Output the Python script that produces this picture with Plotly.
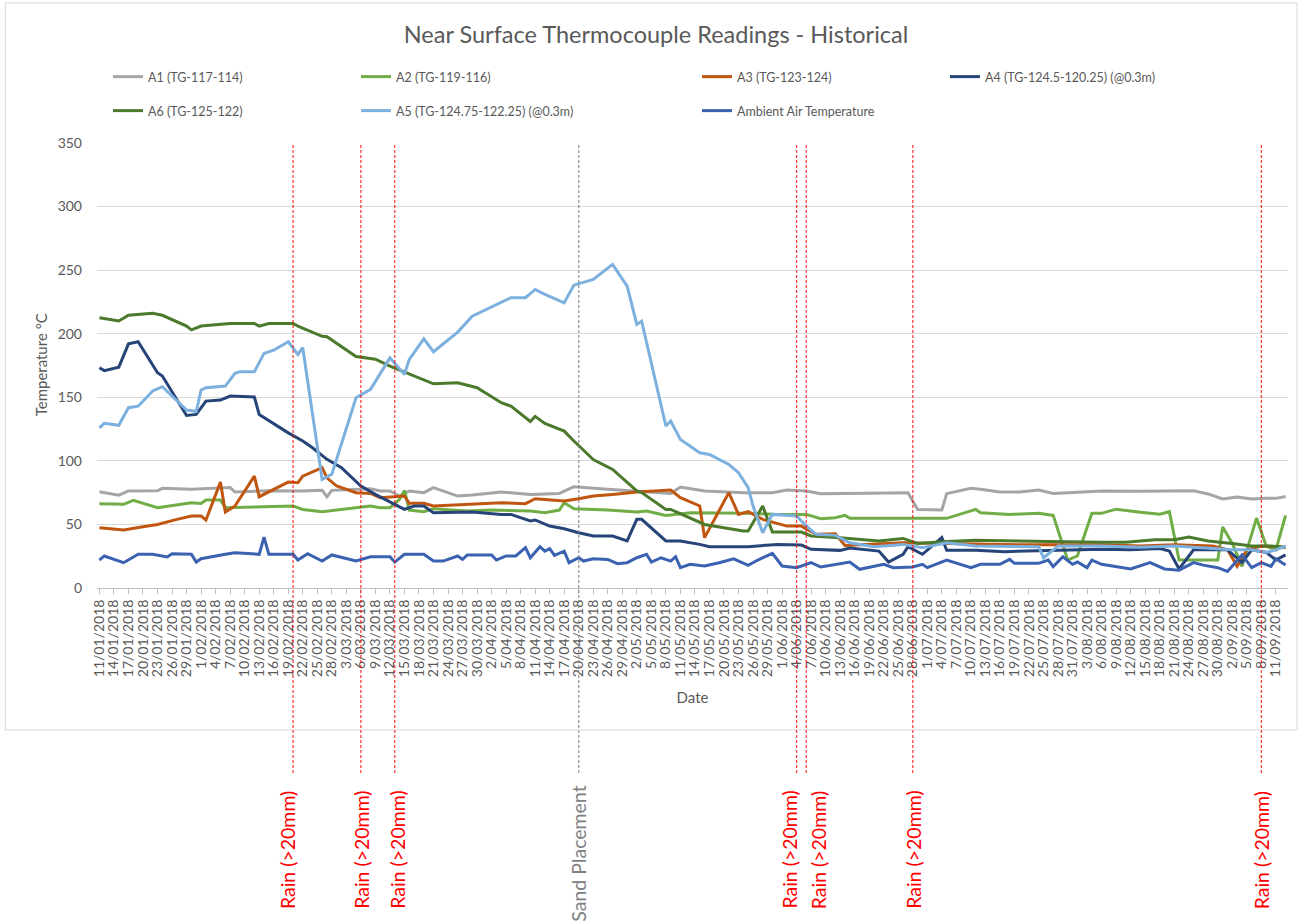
import plotly.graph_objects as go
import pandas as pd

START = "2018-01-11"
END_DAY = 245
TITLE = "Near Surface Thermocouple Readings - Historical"

# ---- data: day offsets from START and temperatures (deg C) ----
a1_day = [0, 2, 4, 6, 12, 13, 19, 27, 28, 35, 42, 46, 47, 48, 56, 58, 60, 62, 64, 67, 69, 74, 77, 83, 89,
          95, 98, 105, 118, 120, 125, 133, 139, 142, 146, 149, 155, 167, 169, 174, 175, 180, 182, 186, 190,
          194, 197, 207, 215, 222, 226, 229, 232, 235, 238, 241, 243, 245]
a1_val = [75.7, 74.5, 73.0, 76.3, 76.5, 78.4, 77.6, 79.0, 75.5, 76.5, 76.3, 76.8, 71.8, 76.8, 78.0, 76.3,
          76.3, 72.3, 76.3, 75.0, 78.9, 72.3, 73.1, 75.5, 73.6, 74.4, 79.7, 77.6, 74.4, 79.4, 76.3, 75.0,
          75.0, 77.0, 76.3, 74.2, 74.4, 75.0, 61.8, 61.3, 74.2, 78.4, 77.6, 75.5, 75.5, 77.0, 74.4, 76.3,
          76.0, 76.5, 76.5, 74.0, 70.0, 71.5, 70.0, 70.5, 70.5, 72.0]

a2_day = [0, 5, 7, 12, 19, 21, 22, 25, 26, 40, 42, 46, 56, 58, 60, 62, 63, 64, 67, 69, 76, 81, 89, 92, 95,
          96, 98, 105, 111, 113, 117, 120, 122, 134, 140, 146, 149, 152, 154, 155, 167, 169, 175, 181, 182,
          188, 194, 197, 200, 202, 205, 207, 210, 215, 219, 221, 223, 231, 232, 234, 236, 239, 241, 243, 245]
a2_val = [66.3, 65.8, 68.9, 63.2, 67.1, 66.5, 69.2, 69.2, 63.2, 64.5, 61.8, 60.0, 64.5, 63.2, 63.2, 69.7,
          76.8, 61.3, 60.0, 62.4, 60.5, 61.3, 60.5, 59.2, 61.3, 67.1, 62.4, 61.3, 59.7, 60.5, 57.1, 58.7,
          59.2, 58.7, 57.9, 57.9, 54.5, 55.3, 57.1, 54.8, 54.8, 54.8, 54.8, 61.8, 59.2, 57.9, 58.7, 57.1,
          22.0, 25.2, 58.7, 58.7, 62.0, 59.5, 58.0, 60.0, 22.0, 22.0, 48.0, 35.0, 17.0, 55.0, 33.0, 30.0, 57.0]

a3_day = [0, 5, 9, 12, 16, 19, 21, 22, 25, 26, 28, 32, 33, 39, 41, 42, 46, 47, 49, 53, 56, 58, 63, 64, 67,
          69, 83, 88, 90, 96, 99, 102, 106, 111, 118, 120, 124, 125, 130, 132, 134, 137, 142, 145, 148, 152,
          154, 161, 166, 175, 190, 207, 215, 222, 230, 233, 235, 237, 240, 245]
a3_val = [47.4, 45.6, 48.2, 50.0, 54.0, 56.6, 56.6, 53.5, 83.3, 59.7, 64.5, 88.0, 71.8, 83.3, 82.8, 88.0,
          94.6, 86.7, 80.2, 75.0, 74.4, 71.0, 72.3, 66.6, 66.6, 64.5, 67.1, 66.3, 70.2, 68.4, 70.2, 72.3,
          73.6, 75.5, 77.0, 71.0, 64.5, 39.6, 75.0, 57.9, 60.0, 54.0, 48.7, 48.7, 42.2, 42.7, 33.5, 34.9,
          35.6, 35.0, 34.0, 34.0, 33.0, 34.0, 33.0, 30.0, 17.0, 30.0, 33.0, 32.0]

a4_day = [0, 1, 4, 6, 8, 12, 13, 18, 20, 22, 25, 27, 32, 33, 39, 42, 44, 47, 50, 54, 57, 61, 63, 65, 67,
          69, 77, 83, 85, 89, 90, 93, 96, 99, 102, 106, 109, 111, 112, 117, 120, 124, 126, 134, 140, 145,
          147, 153, 155, 161, 163, 166, 167, 170, 174, 175, 181, 187, 207, 213, 219, 221, 223, 226, 233,
          236, 238, 241, 243, 245]
a4_val = [173.2, 171.0, 173.7, 192.0, 193.7, 169.3, 166.7, 135.7, 136.5, 147.0, 147.8, 151.0, 150.2, 136.5,
          122.0, 115.6, 110.3, 101.2, 94.6, 80.2, 73.6, 65.8, 61.8, 64.5, 64.5, 59.2, 59.7, 57.9, 57.9, 52.7,
          53.5, 48.7, 46.6, 43.5, 40.9, 40.9, 37.0, 54.0, 54.0, 37.0, 37.0, 34.3, 32.5, 32.5, 34.3, 33.8,
          30.4, 29.6, 31.5, 29.0, 20.4, 26.5, 32.5, 26.5, 39.6, 29.6, 29.6, 28.6, 30.4, 30.0, 31.0, 29.0,
          15.0, 30.0, 30.0, 20.0, 30.0, 28.0, 22.0, 26.0]

a6_day = [0, 4, 6, 11, 13, 18, 19, 21, 27, 32, 33, 35, 40, 41, 46, 47, 53, 57, 60, 63, 69, 74, 78, 83, 85,
          89, 90, 92, 96, 98, 102, 106, 111, 112, 117, 118, 125, 133, 134, 137, 139, 145, 147, 153, 161,
          166, 169, 174, 181, 207, 212, 218, 222, 225, 229, 234, 238, 242, 245]
a6_val = [212.5, 210.0, 214.5, 216.0, 214.5, 206.0, 203.0, 206.0, 208.0, 208.0, 206.0, 208.0, 208.0, 206.0,
          198.0, 197.6, 182.0, 180.0, 174.5, 170.0, 160.6, 161.4, 157.5, 145.7, 143.0, 131.0, 135.0, 129.5,
          123.4, 115.6, 101.0, 93.3, 76.3, 75.0, 61.8, 61.8, 50.0, 44.8, 44.8, 64.5, 44.0, 44.0, 40.9, 39.6,
          37.0, 39.0, 35.0, 36.4, 37.5, 36.0, 36.0, 38.0, 38.0, 40.0, 37.0, 35.0, 33.0, 33.0, 32.0]

a5_day = [0, 1, 4, 6, 8, 11, 13, 18, 20, 21, 22, 26, 28, 29, 32, 34, 36, 39, 41, 42, 46, 48, 53, 56, 60,
          63, 64, 67, 69, 74, 77, 83, 85, 88, 90, 92, 96, 98, 102, 106, 109, 111, 112, 117, 118, 120, 124,
          126, 130, 132, 134, 135, 137, 139, 144, 146, 148, 152, 155, 160, 166, 168, 170, 175, 181, 194,
          195, 198, 207, 215, 222, 230, 234, 238, 241, 243, 245]
a5_val = [126.0, 129.5, 128.0, 141.8, 143.0, 155.0, 158.3, 140.0, 139.0, 155.7, 157.5, 158.8, 168.8, 170.0,
          170.0, 184.5, 187.0, 193.7, 183.7, 189.0, 85.4, 89.4, 149.6, 156.2, 181.0, 168.0, 179.8, 196.0,
          185.8, 201.3, 213.8, 224.3, 228.3, 228.3, 234.8, 230.9, 224.3, 238.2, 242.7, 254.5, 237.4, 207.3,
          209.9, 127.4, 131.3, 116.9, 106.4, 105.0, 97.2, 90.7, 78.9, 64.5, 43.5, 57.9, 56.6, 48.8, 42.2,
          41.4, 35.6, 32.5, 34.3, 33.0, 31.7, 35.6, 33.0, 32.5, 23.8, 33.0, 33.0, 32.0, 33.0, 31.0, 30.0,
          30.0, 28.0, 30.0, 33.0]

amb_day = [0, 1, 5, 8, 11, 14, 15, 19, 20, 21, 26, 28, 33, 34, 35, 40, 41, 43, 46, 48, 53, 56, 60, 61, 63,
           67, 69, 71, 74, 75, 76, 81, 82, 84, 86, 88, 89, 91, 92, 93, 94, 96, 97, 99, 100, 102, 105, 107,
           109, 111, 113, 114, 116, 118, 119, 120, 122, 125, 128, 131, 134, 136, 139, 141, 144, 147, 149,
           153, 155, 157, 160, 162, 164, 168, 170, 171, 175, 180, 182, 186, 188, 189, 194, 196, 197, 199,
           201, 202, 204, 205, 207, 210, 213, 217, 220, 223, 226, 228, 231, 233, 236, 238, 240, 242, 243, 245]
amb_val = [22.0, 25.2, 19.9, 26.5, 26.5, 24.4, 27.0, 26.5, 20.4, 23.0, 26.5, 27.8, 26.5, 40.0, 26.5, 26.5,
           22.0, 27.0, 21.2, 26.0, 21.2, 24.6, 24.6, 20.4, 26.5, 26.5, 21.2, 21.2, 25.2, 22.5, 26.0, 26.0,
           22.0, 25.2, 25.2, 31.7, 23.8, 32.5, 29.0, 30.9, 25.7, 29.0, 19.9, 23.8, 21.2, 23.0, 22.5, 19.1,
           19.9, 23.8, 26.5, 20.4, 23.8, 21.2, 24.6, 16.0, 18.6, 17.3, 19.9, 23.0, 17.8, 22.0, 27.3, 17.3,
           16.0, 19.9, 16.5, 19.4, 20.4, 14.7, 17.3, 18.6, 16.0, 16.5, 18.6, 16.0, 22.0, 16.0, 18.6, 18.6,
           22.5, 19.4, 19.4, 22.0, 16.8, 24.6, 18.6, 20.4, 16.0, 22.0, 18.6, 17.0, 15.0, 20.0, 15.0, 14.0,
           20.0, 18.0, 16.0, 13.0, 26.0, 16.0, 20.0, 17.0, 23.0, 18.0]

series_names = ["A1 (TG-117-114)", "A2 (TG-119-116)", "A3 (TG-123-124)", "A4 (TG-124.5-120.25) (@0.3m)",
                "A6 (TG-125-122)", "A5 (TG-124.75-122.25) (@0.3m)", "Ambient Air Temperature"]
series_days = [a1_day, a2_day, a3_day, a4_day, a6_day, a5_day, amb_day]
series_vals = [a1_val, a2_val, a3_val, a4_val, a6_val, a5_val, amb_val]
series_colors = ["#a5a5a5", "#70ad47", "#c0560f", "#264478", "#4b7a2c", "#7cb0de", "#3a62b0"]

rain_dates = ["2018-02-20", "2018-03-06", "2018-03-13", "2018-06-04", "2018-06-06", "2018-06-28", "2018-09-08"]
rain_label = "Rain (>20mm)"
sand_dates = ["2018-04-20"]
sand_label = "Sand Placement"
y_title = "Temperature °C"
x_title = "Date"

# ---- layout geometry (pixels) ----
W, H = 1310, 924
PL, PR, PT, PB = 96.7, 1288, 143, 588
FONT = "Lato"
GREY = "#595959"
rain_label_shift = [-6, 0, 2, -8, 12, 0, 0]

start = pd.Timestamp(START)


def to_dates(days):
    return [start + pd.Timedelta(days=d) for d in days]


def px_x(px):
    return (px - PL) / (PR - PL)


def px_y(py):
    return (PB - py) / (PB - PT)


fig = go.Figure()

legend_pos = [(108, 77), (356, 77), (697, 77), (945, 77), (108, 111), (356, 111), (697, 111)]

for i, (nm, dd, vv, col) in enumerate(zip(series_names, series_days, series_vals, series_colors)):
    lg = "legend" if i == 0 else f"legend{i + 1}"
    fig.add_trace(go.Scatter(x=to_dates(dd), y=vv, mode="lines", name=nm,
                             line=dict(color=col, width=3), legend=lg, showlegend=True))

layout_legends = {}
for i, (lx, ly) in enumerate(legend_pos):
    key = "legend" if i == 0 else f"legend{i + 1}"
    layout_legends[key] = dict(x=lx / W, y=1 - ly / H, xref="container", yref="container",
                               xanchor="left", yanchor="middle", bgcolor="rgba(0,0,0,0)",
                               font=dict(family=FONT, size=12.5, color=GREY), visible=True)

x_lo = start + pd.Timedelta(days=-0.5)
x_hi = start + pd.Timedelta(days=END_DAY + 0.5)

shapes = []
annotations = []
y_line_bottom = px_y(773)
for d, sh in zip(rain_dates, rain_label_shift):
    shapes.append(dict(type="line", xref="x", yref="paper", x0=d, x1=d, y0=y_line_bottom, y1=1,
                       line=dict(color="rgba(255,0,0,0.75)", width=1.3, dash="3px,2px")))
    annotations.append(dict(x=d, y=px_y(789), xref="x", yref="paper", text=rain_label, textangle=-90,
                            showarrow=False, xanchor="center", yanchor="top", xshift=sh,
                            font=dict(family=FONT, size=19.5, color="#ff0000")))
for d in sand_dates:
    shapes.append(dict(type="line", xref="x", yref="paper", x0=d, x1=d, y0=y_line_bottom, y1=1,
                       line=dict(color="rgba(128,128,128,0.8)", width=1.3, dash="3px,2px")))
    annotations.append(dict(x=d, y=px_y(784), xref="x", yref="paper", text=sand_label, textangle=-90,
                            showarrow=False, xanchor="center", yanchor="top", xshift=-1,
                            font=dict(family=FONT, size=19.5, color="#808080")))

# y-axis title
annotations.append(dict(x=px_x(41), y=px_y(365), xref="paper", yref="paper", text=y_title, textangle=-90,
                        showarrow=False, xanchor="center", yanchor="middle",
                        font=dict(family=FONT, size=15, color=GREY)))

# chart-area border
shapes.append(dict(type="rect", xref="paper", yref="paper", x0=px_x(5), x1=px_x(1297),
                   y0=px_y(730), y1=px_y(3), line=dict(color="#d9d9d9", width=1), layer="below"))

fig.update_layout(
    width=W, height=H,
    margin=dict(l=PL, r=W - PR, t=PT, b=H - PB, autoexpand=False),
    paper_bgcolor="white", plot_bgcolor="white",
    font=dict(family=FONT, color=GREY),
    showlegend=True,
    title=dict(text=TITLE, x=656 / W, y=1 - 35 / H, xanchor="center", yanchor="middle",
               xref="container", yref="container", font=dict(family=FONT, size=23.5, color=GREY)),
    shapes=shapes, annotations=annotations,
    **layout_legends,
)

fig.update_xaxes(type="date", range=[x_lo, x_hi], tick0=START, dtick=3 * 86400000,
                 tickformat="%-d/%m/%Y", tickangle=-90, tickfont=dict(family=FONT, size=14, color=GREY),
                 showgrid=False, showline=True, linecolor="#bfbfbf", linewidth=1,
                 ticks="outside", ticklen=5, tickcolor="#bfbfbf",
                 title=dict(text=x_title, standoff=16, font=dict(family=FONT, size=15, color=GREY)))
fig.update_yaxes(range=[0, 350], dtick=50, showgrid=True, gridcolor="#d9d9d9", gridwidth=1,
                 zeroline=False, showline=False, ticks="", ticklabelstandoff=14,
                 tickfont=dict(family=FONT, size=14, color=GREY))

fig.write_html("out.html", config={"displayModeBar": False},
               post_script="document.body.style.margin='0';document.body.style.overflow='hidden';")
